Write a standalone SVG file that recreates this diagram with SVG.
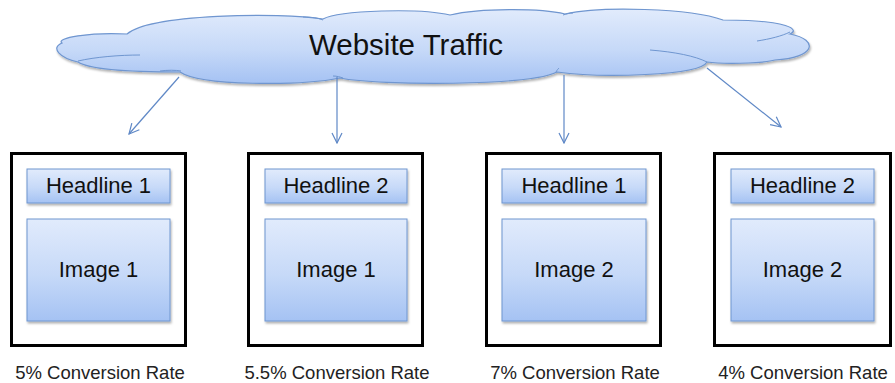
<svg xmlns="http://www.w3.org/2000/svg" width="895" height="383" viewBox="0 0 895 383">
<defs>
<linearGradient id="blue" x1="0" y1="0" x2="0" y2="1">
<stop offset="0" stop-color="#e1ebfc"/>
<stop offset="0.55" stop-color="#c6d9f8"/>
<stop offset="1" stop-color="#a5c2f3"/>
</linearGradient>
<filter id="sh" x="-5%" y="-10%" width="110%" height="130%">
<feDropShadow dx="1" dy="2" stdDeviation="1.2" flood-color="#000" flood-opacity="0.3"/>
</filter>
<marker id="arr" viewBox="0 0 12 12" refX="11" refY="6" markerWidth="12" markerHeight="12" markerUnits="userSpaceOnUse" orient="auto">
<path d="M1,1 L11,6 L1,11" fill="none" stroke="#5f88c6" stroke-width="1.2"/>
</marker>
<style>
.outer{fill:#fff;stroke:#000;stroke-width:3}
.inner{fill:url(#blue);stroke:#6f96d0;stroke-width:1;filter:url(#sh)}
.t{font-family:"Liberation Sans",Arial,sans-serif;fill:#111;text-anchor:middle}
.lbl{font-size:22px}
.rate{font-size:18.5px;fill:#222}
.conn{stroke:#5f88c6;stroke-width:1.2;fill:none;marker-end:url(#arr)}
.cl{fill:none;stroke:#6f96d0;stroke-width:1}
</style>
</defs>
<g id="cloud">
<path d="M127,34 C150,14 280,12 323,19 C340,10 420,8 450,15 C480,8 540,8 565,14 C600,6 690,8 723,20 C790,20 800,30 790,34 C820,40 815,58 775,60 C760,64 720,64 707,62 C700,76 600,78 557,72 C530,86 380,86 340,78 C300,86 200,86 180,72 C130,72 90,70 78,62 C60,58 50,48 62,43 C55,38 90,32 127,34 Z" fill="url(#blue)" stroke="#6f96d0" stroke-width="1.2" filter="url(#sh)"/>
<path class="cl" d="M78,61 C95,57 120,55 140,55"/>
<path class="cl" d="M160,71 C168,70 175,70 181,71"/>
<path class="cl" d="M333,76 C337,76 340,77 343,78"/>
<path class="cl" d="M303,17 C312,17 318,18 323,20"/>
<path class="cl" d="M563,15 C566,14 570,13 573,13"/>
<path class="cl" d="M757,41 C770,39 782,36 790,32"/>
<path class="cl" d="M650,50 C675,52 695,56 707,62"/>
<path class="cl" d="M556,72 C557,70 558,69 559,68"/>
<text class="t" x="406" y="55" font-size="29.5">Website Traffic</text>
</g>
<g id="connectors">
<line class="conn" x1="179" y1="77" x2="129" y2="134"/>
<line class="conn" x1="337" y1="77" x2="337" y2="143"/>
<line class="conn" x1="564" y1="75" x2="564" y2="143"/>
<line class="conn" x1="707" y1="68" x2="781" y2="127"/>
</g>
<g id="variant1">
<rect class="outer" x="11.5" y="153.5" width="174" height="192"/>
<rect class="inner" x="27" y="169" width="143" height="34"/>
<text class="t lbl" x="98.5" y="193">Headline 1</text>
<rect class="inner" x="27" y="219" width="143" height="102"/>
<text class="t lbl" x="98.5" y="277">Image 1</text>
<text class="t rate" x="100" y="379">5% Conversion Rate</text>
</g>
<g id="variant2">
<rect class="outer" x="248.5" y="153.5" width="174" height="192"/>
<rect class="inner" x="265" y="169" width="142" height="34"/>
<text class="t lbl" x="336" y="193">Headline 2</text>
<rect class="inner" x="265" y="219" width="142" height="102"/>
<text class="t lbl" x="336" y="277">Image 1</text>
<text class="t rate" x="337" y="379">5.5% Conversion Rate</text>
</g>
<g id="variant3">
<rect class="outer" x="486.5" y="153.5" width="174" height="192"/>
<rect class="inner" x="502" y="169" width="144" height="34"/>
<text class="t lbl" x="574" y="193">Headline 1</text>
<rect class="inner" x="502" y="219" width="144" height="102"/>
<text class="t lbl" x="574" y="277">Image 2</text>
<text class="t rate" x="575" y="379">7% Conversion Rate</text>
</g>
<g id="variant4">
<rect class="outer" x="714.5" y="153.5" width="176" height="192"/>
<rect class="inner" x="731" y="169" width="143" height="34"/>
<text class="t lbl" x="802.5" y="193">Headline 2</text>
<rect class="inner" x="731" y="219" width="143" height="102"/>
<text class="t lbl" x="802.5" y="277">Image 2</text>
<text class="t rate" x="803" y="379">4% Conversion Rate</text>
</g>
</svg>
